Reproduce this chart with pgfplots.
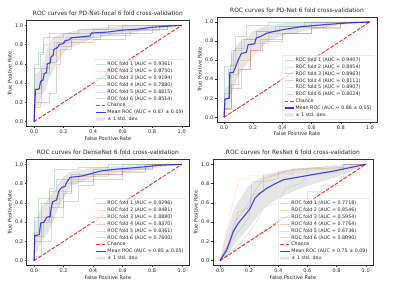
\documentclass[border=0pt]{standalone}
\usepackage{fontspec}
\setmainfont{DejaVu Sans}
\usepackage{pgfplots}
\pgfplotsset{compat=1.18}
\definecolor{C0}{HTML}{1F77B4}
\definecolor{C1}{HTML}{FF7F0E}
\definecolor{C2}{HTML}{2CA02C}
\definecolor{C3}{HTML}{D62728}
\definecolor{C4}{HTML}{9467BD}
\definecolor{C5}{HTML}{8C564B}
\pgfplotsset{
  rocax/.style={
    scale only axis, anchor=south west,
    xmin=-0.05, xmax=1.05, ymin=-0.05, ymax=1.05,
    xtick={0,0.2,0.4,0.6,0.8,1}, ytick={0,0.2,0.4,0.6,0.8,1},
    tick pos=left, tick align=outside, major tick length=3.5pt,
    axis line style={black!80, line width=0.8pt},
    every tick/.style={black!80, line width=0.8pt},
    ticklabel style={font=\fontsize{10}{11}\selectfont, text=black!85},
    /pgf/number format/assume math mode=true,
    /pgf/number format/fixed, /pgf/number format/fixed zerofill, /pgf/number format/precision=1,
    xlabel={False Positive Rate}, ylabel={True Positive Rate},
    label style={font=\fontsize{10}{11}\selectfont, text=black!85},
    xlabel style={yshift=2pt},
    title style={font=\fontsize{11.8}{13}\selectfont, text=black!85, at={(0.5,1)}, anchor=base, yshift=3pt},
    legend style={at={(1,0)}, anchor=south east, xshift=-6pt, yshift=5pt,
      draw=black!20, rounded corners=2pt, fill=white, fill opacity=0.8, text opacity=1,
      font=\fontsize{9.6}{11}\selectfont, text=black!85, row sep=0.9pt, inner sep=3pt},
    legend cell align=left,
    legend image code/.code={\draw[#1] (0pt,0pt) -- (19pt,0pt);},
  },
  fold/.style={line width=1pt, draw opacity=0.25, color=#1},
  chance/.style={red, line width=2pt, dash pattern=on 7.4pt off 3.2pt, draw opacity=0.8},
  meanroc/.style={blue, line width=2.2pt, draw opacity=0.8},
  band/.style={fill=gray, fill opacity=0.2, draw=gray, draw opacity=0.2, area legend},
}
\begin{document}
\begin{tikzpicture}
\useasboundingbox (0,0) rectangle (800pt,570pt);
% ---------------- Top left: PD-Net-focal
\begin{axis}[rocax, at={(53.2pt,317pt)}, width=325pt, height=212pt,
  title={ROC curves for PD-Net-focal 6 fold cross-validation}]
\addplot[fold=C0] coordinates {(0,0)(0,0.55)(0.04,0.55)(0.04,0.7)(0.06,0.7)(0.06,0.88)(0.1,0.88)(0.1,0.92)(0.3,0.92)(0.3,0.96)(0.5,0.96)(0.5,1)(1,1)};
\addlegendentry{ROC fold 1 (AUC = 0.9361)}
\addplot[fold=C1] coordinates {(0,0)(0,0.35)(0.05,0.35)(0.05,0.55)(0.1,0.55)(0.1,0.7)(0.15,0.7)(0.15,0.82)(0.25,0.82)(0.25,0.88)(0.45,0.88)(0.45,0.92)(0.7,0.92)(0.7,0.96)(0.9,0.96)(0.9,1)(1,1)};
\addlegendentry{ROC fold 2 (AUC = 0.8750)}
\addplot[fold=C2] coordinates {(0,0)(0,0.6)(0.03,0.6)(0.03,0.72)(0.06,0.72)(0.06,0.8)(0.1,0.8)(0.1,0.88)(0.2,0.88)(0.2,0.92)(0.4,0.92)(0.4,0.96)(0.6,0.96)(0.6,1)(1,1)};
\addlegendentry{ROC fold 3 (AUC = 0.9194)}
\addplot[fold=C3] coordinates {(0,0)(0,0.15)(0.04,0.15)(0.04,0.2)(0.1,0.2)(0.1,0.3)(0.15,0.3)(0.15,0.6)(0.18,0.6)(0.18,0.75)(0.25,0.75)(0.25,0.82)(0.4,0.82)(0.4,0.86)(0.62,0.86)(0.62,0.92)(0.8,0.92)(0.8,0.96)(0.9,0.96)(0.9,1)(1,1)};
\addlegendentry{ROC fold 4 (AUC = 0.7880)}
\addplot[fold=C4] coordinates {(0,0)(0,0.3)(0.05,0.3)(0.05,0.55)(0.1,0.55)(0.1,0.75)(0.14,0.75)(0.14,0.82)(0.22,0.82)(0.22,0.88)(0.4,0.88)(0.4,0.92)(0.6,0.92)(0.6,0.96)(0.8,0.96)(0.8,1)(1,1)};
\addlegendentry{ROC fold 5 (AUC = 0.8815)}
\addplot[fold=C5] coordinates {(0,0)(0,0.2)(0.05,0.2)(0.05,0.5)(0.1,0.5)(0.1,0.62)(0.15,0.62)(0.15,0.78)(0.25,0.78)(0.25,0.86)(0.45,0.86)(0.45,0.9)(0.65,0.9)(0.65,0.95)(0.85,0.95)(0.85,1)(1,1)};
\addlegendentry{ROC fold 6 (AUC = 0.8514)}
\addplot[chance] coordinates {(0,0)(1,1)};
\addlegendentry{Chance}
\addplot[meanroc] coordinates {(0,0)(0.01,0.33)(0.035,0.34)(0.045,0.42)(0.06,0.43)(0.07,0.5)(0.085,0.51)(0.09,0.6)(0.11,0.61)(0.115,0.67)(0.13,0.69)(0.135,0.75)(0.16,0.77)(0.17,0.8)(0.2,0.81)(0.21,0.84)(0.24,0.85)(0.25,0.87)(0.38,0.89)(0.39,0.92)(0.5,0.93)(0.6,0.95)(0.7,0.96)(0.8,0.98)(0.9,0.99)(1,1)};
\addlegendentry{Mean ROC (AUC = 0.87 ± 0.05)}
\addplot[band] coordinates {(0,0)(0.01,0.5)(0.04,0.52)(0.05,0.58)(0.07,0.62)(0.08,0.72)(0.1,0.78)(0.12,0.85)(0.15,0.89)(0.2,0.91)(0.3,0.95)(0.4,0.97)(0.6,0.99)(0.8,1)(1,1)(0.8,0.96)(0.6,0.91)(0.4,0.87)(0.3,0.8)(0.25,0.78)(0.2,0.72)(0.15,0.6)(0.12,0.5)(0.1,0.46)(0.08,0.35)(0.05,0.27)(0.03,0.17)(0.01,0.16)(0,0)};
\addlegendentry{± 1 std. dev.}
\end{axis}
% ---------------- Top right: PD-Net
\begin{axis}[rocax, at={(433.4pt,325.8pt)}, width=321pt, height=210pt,
  title={ROC curves for PD-Net 6 fold cross-validation}]
\addplot[fold=C0] coordinates {(0,0)(0,0.54)(0.05,0.54)(0.05,0.7)(0.08,0.7)(0.08,0.85)(0.15,0.85)(0.15,0.96)(0.3,0.96)(0.3,1)(1,1)};
\addlegendentry{ROC fold 1 (AUC = 0.9407)}
\addplot[fold=C1] coordinates {(0,0)(0,0.1)(0.05,0.1)(0.05,0.45)(0.1,0.45)(0.1,0.6)(0.18,0.6)(0.18,0.78)(0.3,0.78)(0.3,0.88)(0.5,0.88)(0.5,0.94)(0.7,0.94)(0.7,1)(1,1)};
\addlegendentry{ROC fold 2 (AUC = 0.8454)}
\addplot[fold=C2] coordinates {(0,0)(0,0.2)(0.03,0.2)(0.03,0.5)(0.06,0.5)(0.06,0.7)(0.12,0.7)(0.12,0.82)(0.22,0.82)(0.22,0.9)(0.35,0.9)(0.35,0.95)(0.55,0.95)(0.55,1)(1,1)};
\addlegendentry{ROC fold 3 (AUC = 0.8963)}
\addplot[fold=C3] coordinates {(0,0)(0,0.1)(0.05,0.1)(0.05,0.3)(0.12,0.3)(0.12,0.5)(0.18,0.5)(0.18,0.7)(0.25,0.7)(0.25,0.82)(0.4,0.82)(0.4,0.88)(0.6,0.88)(0.6,0.94)(0.8,0.94)(0.8,1)(1,1)};
\addlegendentry{ROC fold 4 (AUC = 0.8111)}
\addplot[fold=C4] coordinates {(0,0)(0,0.25)(0.04,0.25)(0.04,0.55)(0.08,0.55)(0.08,0.72)(0.14,0.72)(0.14,0.82)(0.22,0.82)(0.22,0.9)(0.38,0.9)(0.38,0.95)(0.6,0.95)(0.6,1)(1,1)};
\addlegendentry{ROC fold 5 (AUC = 0.8907)}
\addplot[fold=C5] coordinates {(0,0)(0,0.08)(0.05,0.08)(0.05,0.35)(0.1,0.35)(0.1,0.5)(0.18,0.5)(0.18,0.7)(0.26,0.7)(0.26,0.8)(0.4,0.8)(0.4,0.88)(0.6,0.88)(0.6,0.93)(0.8,0.93)(0.8,1)(1,1)};
\addlegendentry{ROC fold 6 (AUC = 0.8024)}
\addplot[chance] coordinates {(0,0)(1,1)};
\addlegendentry{Chance}
\addplot[meanroc] coordinates {(0,0)(0.007,0.19)(0.036,0.2)(0.04,0.47)(0.063,0.47)(0.075,0.51)(0.097,0.6)(0.12,0.67)(0.153,0.68)(0.165,0.76)(0.21,0.77)(0.22,0.83)(0.255,0.85)(0.29,0.88)(0.345,0.9)(0.41,0.92)(0.53,0.95)(0.68,0.97)(0.86,0.99)(1,1)};
\addlegendentry{Mean ROC (AUC = 0.86 ± 0.05)}
\addplot[band] coordinates {(0,0)(0.007,0.3)(0.036,0.32)(0.05,0.65)(0.1,0.78)(0.15,0.82)(0.2,0.9)(0.3,0.96)(0.4,0.98)(0.6,1)(1,1)(0.8,0.97)(0.6,0.92)(0.4,0.86)(0.3,0.8)(0.2,0.65)(0.15,0.55)(0.1,0.45)(0.05,0.25)(0.036,0.08)(0.007,0.08)(0,0)};
\addlegendentry{± 1 std. dev.}
\end{axis}
% ---------------- Bottom left: DenseNet
\begin{axis}[rocax, at={(53.2pt,39pt)}, width=325pt, height=212pt,
  title={ROC curves for DenseNet 6 fold cross-validation}]
\addplot[fold=C0] coordinates {(0,0)(0,0.45)(0.05,0.45)(0.05,0.6)(0.1,0.6)(0.1,0.75)(0.14,0.75)(0.14,0.95)(0.3,0.95)(0.3,0.97)(0.5,0.97)(0.5,1)(1,1)};
\addlegendentry{ROC fold 1 (AUC = 0.9296)}
\addplot[fold=C1] coordinates {(0,0)(0,0.25)(0.05,0.25)(0.05,0.45)(0.12,0.45)(0.12,0.65)(0.2,0.65)(0.2,0.8)(0.3,0.8)(0.3,0.88)(0.5,0.88)(0.5,0.93)(0.75,0.93)(0.75,1)(1,1)};
\addlegendentry{ROC fold 2 (AUC = 0.8481)}
\addplot[fold=C2] coordinates {(0,0)(0,0.3)(0.03,0.3)(0.03,0.65)(0.1,0.65)(0.1,0.72)(0.15,0.72)(0.15,0.85)(0.25,0.85)(0.25,0.9)(0.4,0.9)(0.4,0.95)(0.6,0.95)(0.6,1)(1,1)};
\addlegendentry{ROC fold 3 (AUC = 0.8880)}
\addplot[fold=C3] coordinates {(0,0)(0,0.2)(0.05,0.2)(0.05,0.4)(0.1,0.4)(0.1,0.55)(0.2,0.55)(0.2,0.7)(0.25,0.7)(0.25,0.82)(0.4,0.82)(0.4,0.9)(0.6,0.9)(0.6,0.95)(0.8,0.95)(0.8,1)(1,1)};
\addlegendentry{ROC fold 4 (AUC = 0.8370)}
\addplot[fold=C4] coordinates {(0,0)(0,0.25)(0.06,0.25)(0.06,0.42)(0.1,0.42)(0.1,0.6)(0.17,0.6)(0.17,0.72)(0.25,0.72)(0.25,0.85)(0.4,0.85)(0.4,0.9)(0.6,0.9)(0.6,0.96)(0.8,0.96)(0.8,1)(1,1)};
\addlegendentry{ROC fold 5 (AUC = 0.8361)}
\addplot[fold=C5] coordinates {(0,0)(0,0.05)(0.05,0.05)(0.05,0.2)(0.12,0.2)(0.12,0.45)(0.2,0.45)(0.2,0.62)(0.3,0.62)(0.3,0.78)(0.4,0.78)(0.4,0.85)(0.6,0.85)(0.6,0.92)(0.75,0.92)(0.75,1)(1,1)};
\addlegendentry{ROC fold 6 (AUC = 0.7600)}
\addplot[chance] coordinates {(0,0)(1,1)};
\addlegendentry{Chance}
\addplot[meanroc] coordinates {(0,0)(0.005,0.26)(0.036,0.27)(0.045,0.39)(0.068,0.4)(0.086,0.45)(0.11,0.46)(0.115,0.53)(0.126,0.61)(0.153,0.63)(0.167,0.72)(0.187,0.76)(0.21,0.77)(0.22,0.81)(0.245,0.865)(0.33,0.88)(0.45,0.93)(0.56,0.95)(0.72,0.97)(0.85,0.99)(1,1)};
\addlegendentry{Mean ROC (AUC = 0.85 ± 0.05)}
\addplot[band] coordinates {(0,0)(0.005,0.4)(0.02,0.42)(0.05,0.55)(0.1,0.65)(0.15,0.75)(0.2,0.87)(0.25,0.92)(0.4,0.96)(0.6,0.98)(0.8,1)(1,1)(0.8,0.96)(0.6,0.92)(0.4,0.87)(0.25,0.78)(0.2,0.65)(0.15,0.5)(0.1,0.3)(0.05,0.2)(0.02,0.1)(0.005,0.1)(0,0)};
\addlegendentry{± 1 std. dev.}
\end{axis}
% ---------------- Bottom right: ResNet
\begin{axis}[rocax, at={(425.4pt,39pt)}, width=320.6pt, height=212pt,
  title={ROC curves for ResNet 6 fold cross-validation}]
\addplot[fold=C0] coordinates {(0,0)(0.05,0.1)(0.1,0.25)(0.2,0.45)(0.22,0.82)(0.3,0.82)(0.3,0.9)(0.5,0.9)(0.5,0.95)(0.85,0.95)(0.85,1)(1,1)};
\addlegendentry{ROC fold 1 (AUC = 0.7718)}
\addplot[fold=C1] coordinates {(0,0)(0.08,0.55)(0.13,0.85)(0.2,0.85)(0.2,0.88)(0.4,0.88)(0.4,0.92)(0.6,0.92)(0.6,0.96)(0.85,0.96)(0.85,1)(1,1)};
\addlegendentry{ROC fold 2 (AUC = 0.8546)}
\addplot[fold=C2] coordinates {(0,0)(0.4,0.42)(0.6,0.55)(0.6,0.72)(0.7,0.72)(0.7,0.78)(0.85,0.78)(0.85,0.97)(0.9,0.97)(0.9,1)(1,1)};
\addlegendentry{ROC fold 3 (AUC = 0.5954)}
\addplot[fold=C3] coordinates {(0,0)(0.1,0.3)(0.12,0.5)(0.2,0.55)(0.22,0.68)(0.3,0.72)(0.3,0.82)(0.4,0.85)(0.4,0.92)(0.6,0.95)(0.85,0.97)(0.85,1)(1,1)};
\addlegendentry{ROC fold 4 (AUC = 0.7764)}
\addplot[fold=C4] coordinates {(0,0)(0.15,0.2)(0.25,0.4)(0.3,0.55)(0.4,0.6)(0.45,0.75)(0.55,0.8)(0.6,0.88)(0.8,0.92)(0.85,1)(1,1)};
\addlegendentry{ROC fold 5 (AUC = 0.6736)}
\addplot[fold=C5] coordinates {(0,0)(0.05,0.15)(0.1,0.4)(0.15,0.5)(0.2,0.6)(0.25,0.75)(0.3,0.85)(0.4,0.9)(0.5,0.95)(0.7,0.97)(0.85,1)(1,1)};
\addlegendentry{ROC fold 6 (AUC = 0.8090)}
\addplot[chance] coordinates {(0,0)(1,1)};
\addlegendentry{Chance}
\addplot[meanroc] coordinates {(0,0)(0.046,0.11)(0.07,0.21)(0.09,0.3)(0.126,0.39)(0.17,0.47)(0.206,0.54)(0.24,0.65)(0.275,0.7)(0.32,0.75)(0.38,0.8)(0.435,0.84)(0.55,0.87)(0.66,0.9)(0.78,0.93)(0.89,0.965)(1,1)};
\addlegendentry{Mean ROC (AUC = 0.75 ± 0.09)}
\addplot[band] coordinates {(0,0)(0.05,0.3)(0.1,0.55)(0.2,0.78)(0.3,0.88)(0.4,0.92)(0.5,0.95)(0.6,0.96)(0.8,0.98)(0.9,0.99)(1,1)(0.9,0.93)(0.8,0.87)(0.6,0.78)(0.5,0.72)(0.4,0.65)(0.3,0.55)(0.2,0.35)(0.1,0.18)(0.05,0.06)(0,0)};
\addlegendentry{± 1 std. dev.}
\end{axis}
\end{tikzpicture}
\end{document}
